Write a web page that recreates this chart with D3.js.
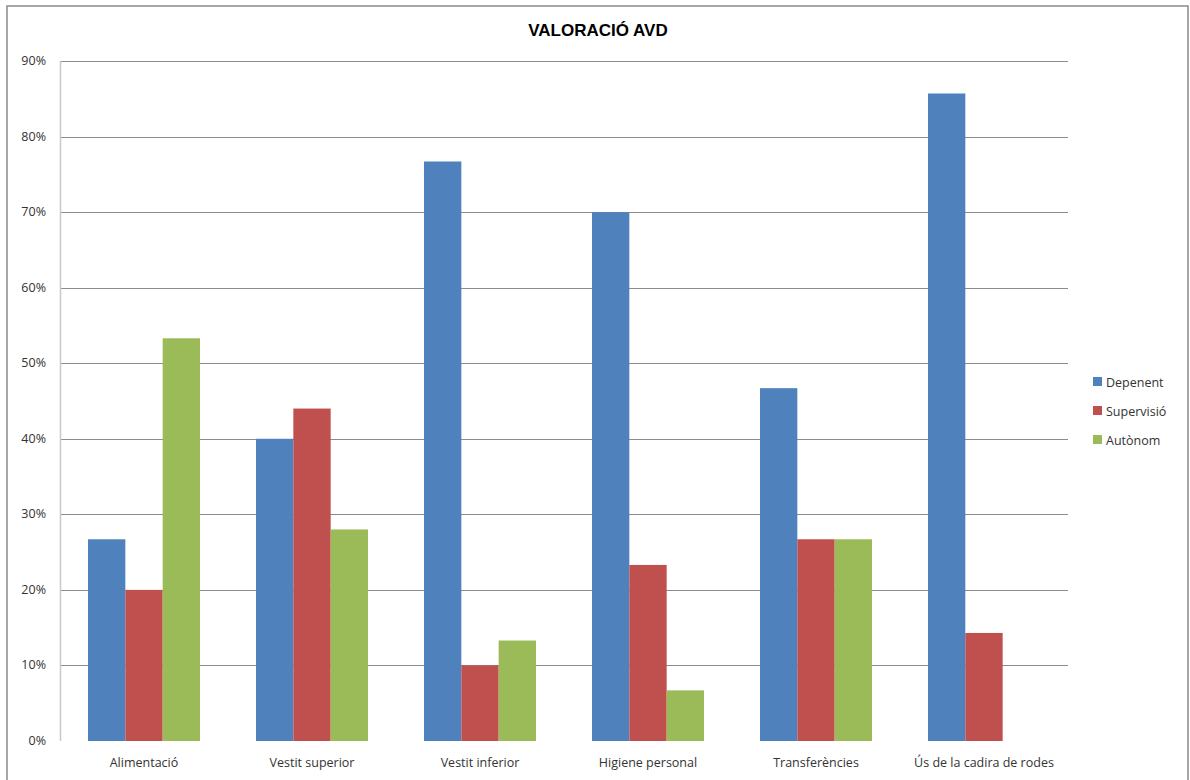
<!DOCTYPE html>
<html lang="ca">
<head>
<meta charset="UTF-8">
<title>Valoració AVD</title>
<script src="https://cdn.jsdelivr.net/npm/d3@7"></script>
<style>
  body { margin: 0; background: #fff; }
  svg text { font-family: "Open Sans", "Liberation Sans", sans-serif; fill: #333; }
</style>
</head>
<body>
<script>
// categories and series (fractions)
var categories = ["Alimentació", "Vestit superior", "Vestit inferior", "Higiene personal", "Transferències", "Ús de la cadira de rodes"];
var seriesNames = ["Depenent", "Supervisió", "Autònom"];
var dependent = [0.267, 0.40, 0.767, 0.70, 0.467, 0.857];
var supervisio = [0.20, 0.44, 0.10, 0.233, 0.267, 0.143];
var autonom = [0.533, 0.28, 0.133, 0.067, 0.267, 0];
var colors = ["#4f81bd", "#c0504d", "#9bbb59"];
var yTicks = [0, 0.1, 0.2, 0.3, 0.4, 0.5, 0.6, 0.7, 0.8, 0.9];

var W = 1190, H = 780;
var plotLeft = 60, plotRight = 1068, plotTop = 61, plotBottom = 741;

var svg = d3.select("body").append("svg").attr("width", W).attr("height", H);

// outer chart border
svg.append("rect").attr("x", 7).attr("y", 6).attr("width", 1181).attr("height", 790)
  .attr("fill", "none").attr("stroke", "#8a8a8a").attr("stroke-width", 1.5);

var x0 = d3.scaleBand().domain(categories).range([plotLeft, plotRight]).paddingInner(0.3333).paddingOuter(0.1667);
var x1 = d3.scaleBand().domain(seriesNames).range([0, x0.bandwidth()]);
var y = d3.scaleLinear().domain([0, 0.9]).range([plotBottom, plotTop]);

// gridlines
svg.append("g").selectAll("line").data(yTicks.filter(function(d){ return d > 0; })).enter().append("line")
  .attr("x1", plotLeft).attr("x2", plotRight)
  .attr("y1", function(d){ return Math.round(y(d)) + 0.5; })
  .attr("y2", function(d){ return Math.round(y(d)) + 0.5; })
  .attr("stroke", "#8c8c8c").attr("stroke-width", 1);

// y axis line
svg.append("line").attr("x1", plotLeft + 0.5).attr("x2", plotLeft + 0.5).attr("y1", plotTop).attr("y2", plotBottom)
  .attr("stroke", "#c8c8c8").attr("stroke-width", 1.5);

// y labels
svg.append("g").selectAll("text").data(yTicks).enter().append("text")
  .attr("x", 46).attr("y", function(d){ return y(d) + 4; })
  .attr("text-anchor", "end").attr("font-size", 12.5)
  .text(function(d){ return d3.format(".0%")(d); });

// bars
var seriesData = [dependent, supervisio, autonom];
seriesNames.forEach(function(s, si) {
  svg.append("g").selectAll("rect").data(categories).enter().append("rect")
    .attr("x", function(c){ return x0(c) + x1(s); })
    .attr("width", x1.bandwidth())
    .attr("y", function(c, i){ return y(seriesData[si][i]); })
    .attr("height", function(c, i){ return plotBottom - y(seriesData[si][i]); })
    .attr("fill", colors[si]);
});

// x labels
svg.append("g").selectAll("text").data(categories).enter().append("text")
  .attr("x", function(c){ return x0(c) + x0.bandwidth() / 2; })
  .attr("y", 767).attr("text-anchor", "middle").attr("font-size", 12.5)
  .text(function(c){ return c; });

// title
svg.append("text").attr("x", 598).attr("y", 36).attr("text-anchor", "middle")
  .style("font-family", "'Liberation Sans', Arial, sans-serif").style("fill", "#000")
  .attr("font-size", 17).attr("font-weight", "bold").text("VALORACIÓ AVD");

// legend
var legend = svg.append("g").selectAll("g").data(seriesNames).enter().append("g")
  .attr("transform", function(d, i){ return "translate(1093," + (382 + i * 29) + ")"; });
legend.append("rect").attr("x", 0).attr("y", -5).attr("width", 9).attr("height", 9)
  .attr("fill", function(d, i){ return colors[i]; });
legend.append("text").attr("x", 13).attr("y", 4.5).attr("font-size", 12.5).text(function(d){ return d; });
</script>
</body>
</html>
